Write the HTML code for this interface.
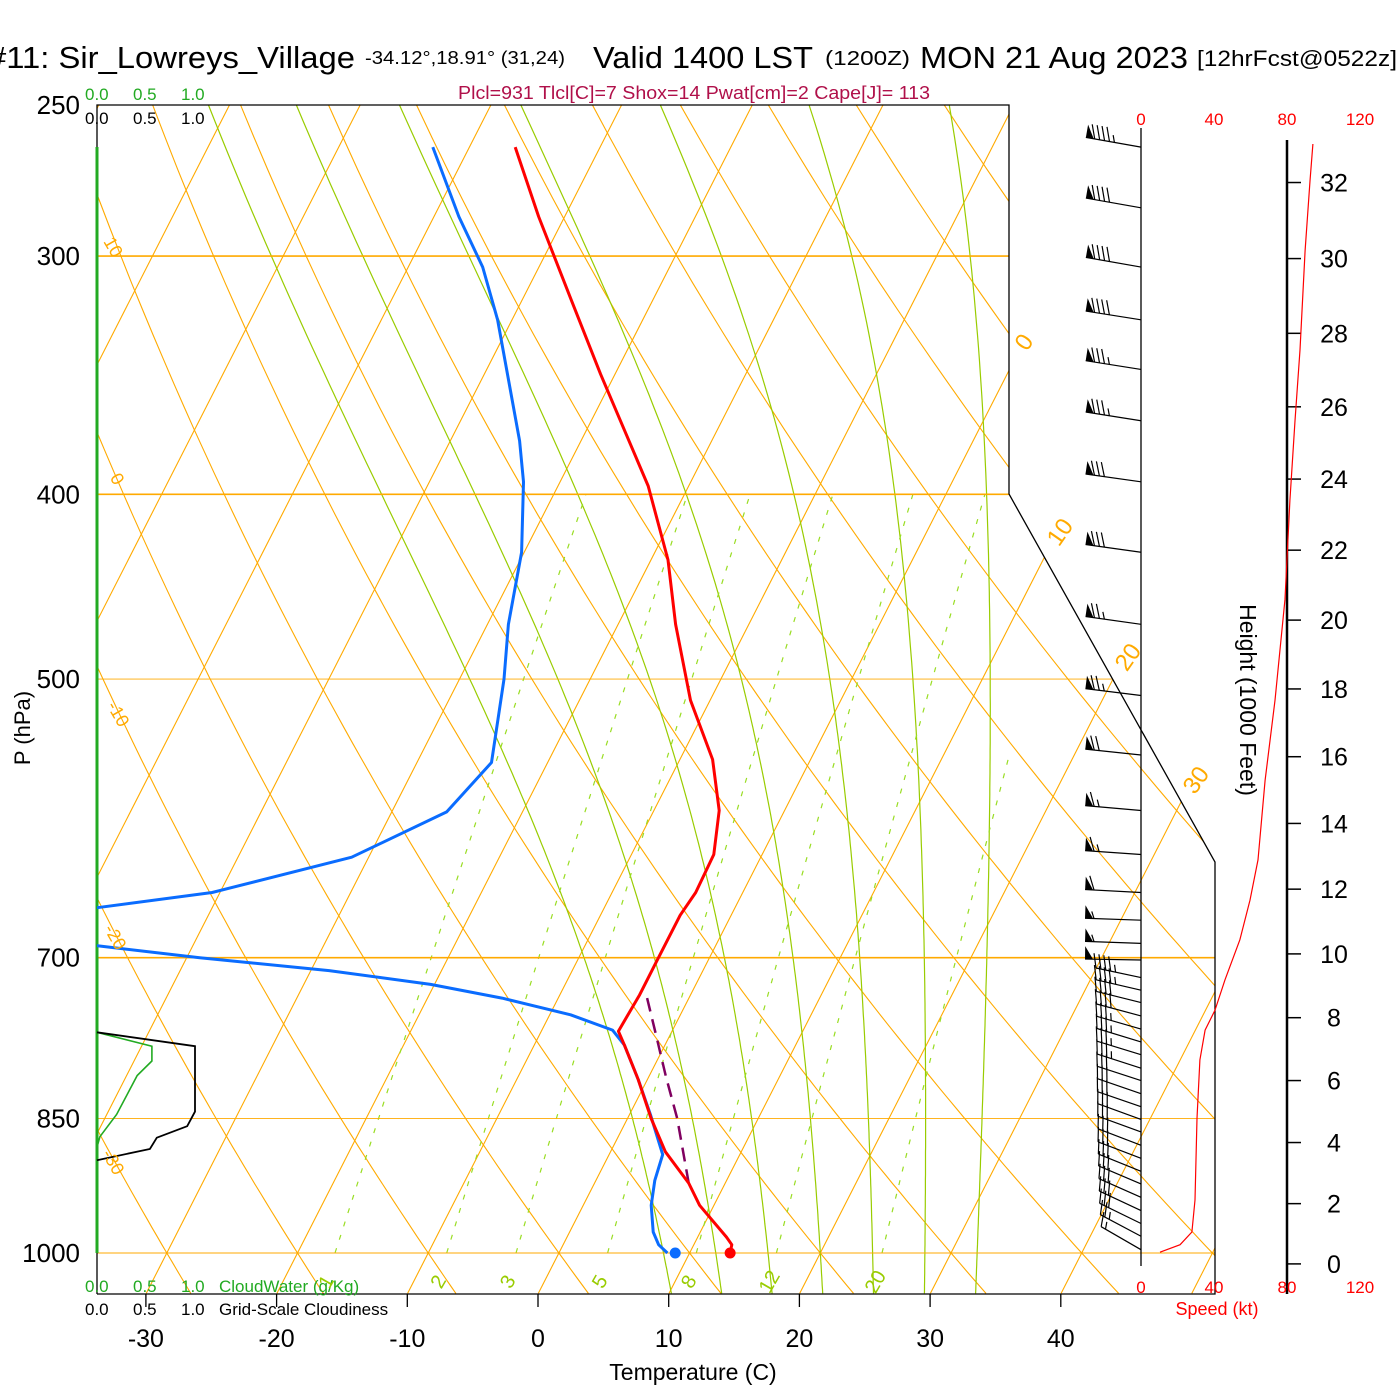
<!DOCTYPE html>
<html><head><meta charset="utf-8"><title>Skew-T Sir_Lowreys_Village</title>
<style>
html,body{margin:0;padding:0;background:#fff;}
svg{display:block;font-family:"Liberation Sans","DejaVu Sans",sans-serif;}
</style></head>
<body>
<svg id="chart" width="1400" height="1400" viewBox="0 0 1400 1400" xmlns="http://www.w3.org/2000/svg">
<defs>
<clipPath id="clipMain"><polygon points="97,105 1009,105 1009,494 1215,862 1215,1294 97,1294"/></clipPath>
<clipPath id="clipRect"><rect x="97" y="105" width="912" height="1189"/></clipPath>
</defs>
<g id="bg"></g>
<g id="fg"></g>
<g id="txt">
<text x="-12" y="68" font-size="31" textLength="367" lengthAdjust="spacingAndGlyphs">#11: Sir_Lowreys_Village</text>
<text x="365" y="64" font-size="18" textLength="200" lengthAdjust="spacingAndGlyphs">-34.12°,18.91° (31,24)</text>
<text x="593" y="68" font-size="31" textLength="220" lengthAdjust="spacingAndGlyphs">Valid 1400 LST</text>
<text x="825" y="65" font-size="20" textLength="85" lengthAdjust="spacingAndGlyphs">(1200Z)</text>
<text x="920" y="68" font-size="31" textLength="268" lengthAdjust="spacingAndGlyphs">MON 21 Aug 2023</text>
<text x="1197" y="66" font-size="22" textLength="200" lengthAdjust="spacingAndGlyphs">[12hrFcst@0522z]</text>
<text x="458" y="99" font-size="18" fill="#b0104a" textLength="472" lengthAdjust="spacingAndGlyphs">Plcl=931 Tlcl[C]=7 Shox=14 Pwat[cm]=2 Cape[J]= 113</text>
<g font-size="17" fill="#22aa22">
<text x="85" y="100">0.0</text><text x="133" y="100">0.5</text><text x="181" y="100">1.0</text></g>
<g font-size="17" fill="#000">
<text x="85" y="124">0.0</text><text x="133" y="124">0.5</text><text x="181" y="124">1.0</text></g>
<g font-size="17" fill="#22aa22">
<text x="85" y="1292">0.0</text><text x="133" y="1292">0.5</text><text x="181" y="1292">1.0</text><text x="219" y="1292">CloudWater (g/Kg)</text></g>
<g font-size="17" fill="#000">
<text x="85" y="1315">0.0</text><text x="133" y="1315">0.5</text><text x="181" y="1315">1.0</text><text x="219" y="1315">Grid-Scale Cloudiness</text></g>
<text x="693" y="1380" font-size="23" text-anchor="middle">Temperature (C)</text>
<text transform="translate(30,728) rotate(-90)" font-size="22" text-anchor="middle">P (hPa)</text>
<text transform="translate(1240,700) rotate(90)" font-size="23" text-anchor="middle">Height (1000 Feet)</text>
<text x="1217" y="1315" font-size="18" fill="#ff0000" text-anchor="middle">Speed (kt)</text>
</g>
</svg>
<script>
// ---------- data ----------
const pressureTicks=[250,300,400,500,700,850,1000];
const tempTicks=[-30,-20,-10,0,10,20,30,40];
const tempP=[1000,990,981,944,919,885,850,811,778,765,732,706,665,647,618,586,551,513,468,433,396,346,316,286,263];
const tempT=[13.1,12.9,12.2,8.9,7.2,4.2,1.8,-0.7,-3.1,-4.1,-3.9,-3.9,-3.9,-3.6,-3.7,-5.0,-7.5,-11.5,-15.6,-18.7,-23.1,-31.1,-36.3,-42.0,-46.5];
const dewP=[1000,990,975,944,916,888,846,811,778,764,750,735,723,711,700,690,677,665,659,647,620,587,553,500,468,429,394,375,324,304,286,263];
const dewT=[8.3,7.3,6.4,5.2,4.5,4.1,1.6,-0.7,-3.1,-4.6,-8.4,-14.3,-20.3,-28.6,-39.0,-47.3,-70,-70,-48.8,-40.6,-31.3,-25.8,-24.3,-26.6,-28.4,-30.2,-32.8,-34.7,-41.1,-44.3,-48.1,-52.8];
const sfcT=13.1, sfcTd=8.9;
const parcelP=[919,850,808,773,735];
const parcelT=[7.2,3.8,1.3,-0.8,-3.2];
const cloudP=[766,779,793,807,846,869,880];
const cloudWater=[0,0.56,0.56,0.41,0.20,0.03,0];
const cloudinessP=[766,779,843,858,870,882,894];
const cloudiness=[0,1.0,1.0,0.92,0.61,0.54,0];
const windP=[263,283,304,324,344,366,394,429,468,510,548,586,618,647,669,688,702,717,728,739,751,763,775,787,800,812,825,838,851,864,878,892,906,920,935,950,965,980,996];
const windSpd=[95,90,90,90,85,85,80,80,75,75,70,65,65,60,55,55,50,45,45,40,40,35,35,35,35,30,30,30,30,30,30,30,30,30,30,30,30,25,15];
const windDir=[280,280,280,279,279,279,278,278,278,277,276,275,274,273,272,272,271,282,283,284,285,286,287,287,288,288,289,289,290,290,291,291,292,293,294,295,296,298,300];
const speedP=[999,990,975,938,850,792,764,746,719,685,653,622,565,513,454,403,366,336,298,274,262];
const speedKt=[10.4,21.4,27.9,29.6,30.7,32.3,35.1,40.5,46,54.2,59.7,64.1,68,73.4,78.9,81.6,84.4,87.1,89.9,92.6,94.2];
const heightTicks=[0,2,4,6,8,10,12,14,16,18,20,22,24,26,28,30,32];
const speedTicks=[0,40,80,120];
const isotherms=[-80,-70,-60,-50,-40,-30,-20,-10,0,10,20,30,40,50];
const dryAdiabats=[-40,-30,-20,-10,0,10,20,30,40,50,60,70,80,90,100,110,120,130];
const moistAdiabats=[8,12,16,20,24,28,32,36];
const mixRatios=[1,2,3,5,8,12,20];
const mixLabels=["1","2","3","5","8","12","20"];

// ---------- axes ----------
function Y(p){return 1253-828*Math.log(1000/p);}
function X(T,p){return 538+13.07*T+0.51*(1294-Y(p));}
function XS(s){return 1141+s*73/40;}
function YH(h){const z=h*304.8;const p=1013.25*Math.pow(1-z/44330.8,5.2559);return Y(p);}
const NS='http://www.w3.org/2000/svg';
function mk(tag,attrs,parent){const e=document.createElementNS(NS,tag);for(const k in attrs)e.setAttribute(k,attrs[k]);parent.appendChild(e);return e;}
const bg=document.getElementById('bg'), fg=document.getElementById('fg'), tx=document.getElementById('txt');
const ORANGE='#ffaa00', MG='#99cc00';
function pts(arr){return arr.map(a=>a[0].toFixed(1)+','+a[1].toFixed(1)).join(' ');}

const og=mk('g',{'clip-path':'url(#clipMain)',fill:'none',stroke:ORANGE,'stroke-width':'1.1'},bg);


isotherms.forEach(T=>{
  const l=mk('line',{x1:X(T,1050),y1:Y(1050),x2:X(T,250),y2:Y(250)},og);
  
  
});
dryAdiabats.forEach(th=>{
  const a=[];for(let p=1050;p>=250;p-=10){const T=(th+273.15)*Math.pow(p/1000,0.2857)-273.15;a.push([X(T,p),Y(p)]);}
  const l=mk('polyline',{points:pts(a)},og);
  
  
});
const gg=mk('g',{'clip-path':'url(#clipRect)',fill:'none',stroke:MG,'stroke-width':'1.2'},bg);


function es(T){return 6.112*Math.exp(17.67*T/(T+243.5));}
function dTdp(T,p){const Tk=T+273.15;const e=es(T);const r=0.622*e/(p-e);const num=287*Tk+2.5e6*r;const den=1005+2.5e6*2.5e6*r*0.622/(287*Tk*Tk);return num/den/p;}
moistAdiabats.forEach(tw=>{
  const up=[];let T=tw;for(let p=1000;p>=250;p-=1){if(p%5===0)up.push([X(T,p),Y(p)]);T-=dTdp(T,p)*1;}
  const dn=[];T=tw;for(let p=1000;p<=1050;p+=1){if(p%5===0)dn.push([X(T,p),Y(p)]);T+=dTdp(T,p)*1;}
  const a=dn.reverse().concat(up.slice(1));
  const l=mk('polyline',{points:pts(a)},gg);
  
  
});
function tdFromW(w,p){const e=(w/1000)*p/(0.622+w/1000);const g=Math.log(e/6.112);return 243.5*g/(17.67-g);}
mixRatios.forEach((w,i)=>{
  const a=[];for(let p=1000;p>=400;p-=10)a.push([X(tdFromW(w,p),p),Y(p)]);
  const l=mk('polyline',{points:pts(a),'stroke-dasharray':'5,9',stroke:'#99dd22'},gg);
  
  
  const px=X(tdFromW(w,1035),1035), py=Y(1035);
  const t=mk('text',{x:px,y:py+7,'font-size':'20',fill:'#99cc00','text-anchor':'middle',transform:'rotate(-60 '+px+' '+py+')'},tx);
  t.textContent=mixLabels[i];
  
  
});
pressureTicks.forEach(p=>{
  if(p===250)return;
  const y=Y(p);let x2=1009;if(y>494)x2=Math.min(1215,1009+(y-494)*206/368);
  const thick=(p===300||p===400||p===700);
  const l=mk('line',{x1:97,y1:y,x2:x2,y2:y,stroke:ORANGE,'stroke-width':thick?'1.6':'0.9'},bg);
  
  
  const t=mk('text',{x:80,y:y+9,'font-size':'26','text-anchor':'end'},tx);
  t.textContent=String(p);
  
  
});
{const t=mk('text',{x:80,y:Y(250)+9,'font-size':'26','text-anchor':'end'},tx);t.textContent='250';

}
const leftLab=[["10",108,250],["0",112,482],["-10",113,717],["-20",110,940],["-30",108,1165]];
leftLab.forEach(a=>{const t=mk('text',{x:a[1],y:a[2],'font-size':'18',fill:ORANGE,transform:'rotate(60 '+a[1]+' '+a[2]+')','text-anchor':'middle'},tx);t.textContent=a[0];

});
const rightLab=[["0",1024,342],["10",1060,532],["20",1128,657],["30",1196,780]];
rightLab.forEach(a=>{const t=mk('text',{x:a[1],y:a[2]+8,'font-size':'24',fill:ORANGE,transform:'rotate(-55 '+a[1]+' '+a[2]+')','text-anchor':'middle'},tx);t.textContent=a[0];

});

const border=mk('polyline',{points:'97,1294 97,105 1009,105 1009,494 1215,862 1215,1294 97,1294',fill:'none',stroke:'#000','stroke-width':'1.3'},fg);


const gax=mk('line',{x1:97,y1:147,x2:97,y2:1253,stroke:'#22aa22','stroke-width':'3'},fg);


tempTicks.forEach(T=>{
  const x=538+13.07*T;
  const l=mk('line',{x1:x,y1:1294,x2:x,y2:1307,stroke:'#000','stroke-width':'1.3'},fg);
  
  
  const t=mk('text',{x:x,y:1347,'font-size':'25','text-anchor':'middle'},tx);
  t.textContent=String(T);
  
  
});

const pg=mk('g',{'clip-path':'url(#clipRect)',fill:'none','stroke-width':'3','stroke-linejoin':'round'},fg);


const par=mk('polyline',{points:pts(parcelP.map((p,i)=>[X(parcelT[i],p),Y(p)])),stroke:'#800060','stroke-width':'2.5','stroke-dasharray':'14,8'},pg);


const dl=mk('polyline',{points:pts(dewP.map((p,i)=>[X(dewT[i],p),Y(p)])),stroke:'#0a6cff'},pg);


const tl=mk('polyline',{points:pts(tempP.map((p,i)=>[X(tempT[i],p),Y(p)])),stroke:'#ff0000'},pg);


const d1=mk('circle',{cx:X(sfcT,1000),cy:Y(1000),r:5.5,fill:'#ff0000'},fg);


const d2=mk('circle',{cx:X(sfcTd,1000),cy:Y(1000),r:5.5,fill:'#0a6cff'},fg);



function XC(v){return 97+v*98;}
const cw=mk('polyline',{points:pts(cloudP.map((p,i)=>[XC(cloudWater[i]),Y(p)])),fill:'none',stroke:'#22aa22','stroke-width':'1.6'},fg);


const cc=mk('polyline',{points:pts(cloudinessP.map((p,i)=>[XC(cloudiness[i]),Y(p)])),fill:'none',stroke:'#000','stroke-width':'1.8'},fg);



const sax=mk('line',{x1:1141,y1:128,x2:1141,y2:1266,stroke:'#000','stroke-width':'1.3'},fg);


const hax=mk('line',{x1:1287,y1:140,x2:1287,y2:1294,stroke:'#000','stroke-width':'2.5'},fg);


heightTicks.forEach(h=>{
  const y=YH(h);
  const l=mk('line',{x1:1287,y1:y,x2:1301,y2:y,stroke:'#000','stroke-width':'1.5'},fg);
  
  
  const t=mk('text',{x:1334,y:y+9,'font-size':'25','text-anchor':'middle'},tx);
  t.textContent=String(h);
  
  
});
speedTicks.forEach(s=>{
  [125,1293].forEach((yy,j)=>{
    const t=mk('text',{x:XS(s),y:yy,'font-size':'17',fill:'#ff0000','text-anchor':'middle'},tx);
    t.textContent=String(s);
    
    
  });
});
const sp=mk('polyline',{points:pts(speedP.map((p,i)=>[XS(speedKt[i]),Y(p)])),fill:'none',stroke:'#ff0000','stroke-width':'1.2'},fg);



const wg=mk('g',{stroke:'#000','stroke-width':'1.2',fill:'#000'},fg);


windP.forEach((p,i)=>{
  const y=Y(p), spd=windSpd[i], d=windDir[i]*Math.PI/180;
  const sx=Math.sin(d), sy=-Math.cos(d);
  const nx=-sy, ny=sx;
  const L=spd>=50?56:46;
  const g=mk('g',{},wg);
  
  
  const tipx=1141+sx*L, tipy=y+sy*L;
  mk('line',{x1:1141,y1:y,x2:tipx,y2:tipy},g);
  let rem=Math.round(spd/5)*5, off=0;
  while(rem>=50){
    mk('polygon',{points:pts([[tipx-sx*off,tipy-sy*off],[tipx-sx*off+nx*13,tipy-sy*off+ny*13],[tipx-sx*(off+8),tipy-sy*(off+8)]]),stroke:'none'},g);
    off+=9;rem-=50;
  }
  while(rem>=10){
    const bx=tipx-sx*off, by=tipy-sy*off;
    mk('line',{x1:bx,y1:by,x2:bx+nx*14+sx*5,y2:by+ny*14+sy*5},g);
    off+=5;rem-=10;
  }
  if(rem>=5){
    if(off===0)off=5;
    const bx=tipx-sx*off, by=tipy-sy*off;
    mk('line',{x1:bx,y1:by,x2:bx+nx*7+sx*2.5,y2:by+ny*7+sy*2.5},g);
  }
});
</script>
</body></html>
